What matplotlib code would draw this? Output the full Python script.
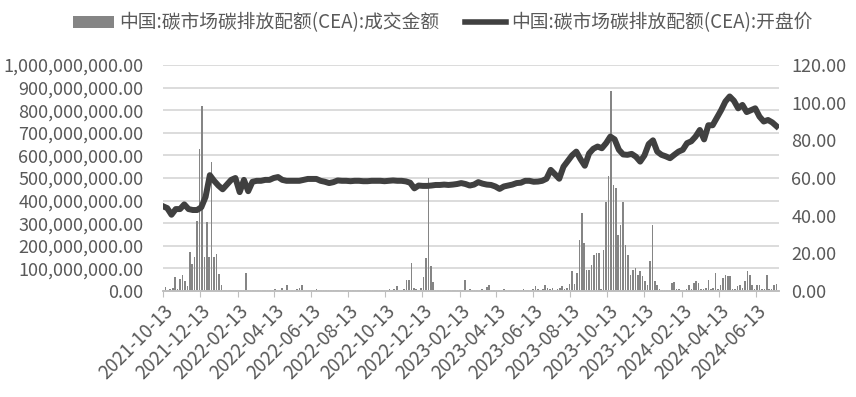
import matplotlib
matplotlib.use("Agg")
import matplotlib.pyplot as plt
from matplotlib.patches import Patch
from matplotlib.lines import Line2D
import numpy as np
import pandas as pd

plt.rcParams['font.family'] = ['Noto Sans CJK SC', 'DejaVu Sans']
plt.rcParams['font.weight'] = 'light'

# 成交金额 (百万元), 每 4 天一个读数, 自 2021-10-13 起
volume_m = [
    5, 18, 4, 8, 12, 62, 10, 55, 70, 43, 20, 172,
    120, 150, 310, 630, 820, 150, 305, 150, 570, 150, 164, 77,
    25, 4, 3, 5, 3, 4, 6, 3, 5, 4, 80, 3,
    4, 3, 5, 4, 6, 3, 4, 5, 3, 6, 8, 5,
    6, 13, 5, 26, 6, 4, 5, 8, 12, 26, 5, 4,
    3, 4, 6, 8, 4, 3, 5, 4, 3, 5, 4, 3,
    4, 3, 5, 3, 4, 3, 4, 3, 5, 3, 4, 3,
    4, 3, 3, 5, 3, 4, 3, 3, 6, 8, 5, 10,
    20, 6, 5, 8, 50, 50, 124, 15, 10, 6, 15, 60,
    147, 500, 110, 40, 5, 3, 4, 3, 5, 4, 6, 3,
    4, 5, 3, 4, 50, 6, 8, 5, 4, 3, 5, 8,
    5, 16, 25, 6, 4, 3, 5, 4, 8, 5, 3, 4,
    5, 3, 4, 6, 8, 5, 4, 6, 10, 20, 8, 6,
    10, 27, 15, 8, 12, 6, 10, 15, 20, 8, 12, 30,
    87, 30, 80, 227, 345, 212, 94, 94, 116, 160, 168, 168,
    10, 180, 396, 507, 885, 470, 455, 249, 293, 396, 205, 160,
    72, 94, 102, 72, 87, 65, 43, 28, 131, 293, 43, 28,
    10, 6, 4, 5, 6, 35, 40, 10, 8, 5, 6, 10,
    28, 10, 35, 43, 35, 8, 10, 12, 50, 10, 12, 80,
    10, 25, 57, 72, 65, 68, 8, 10, 20, 28, 15, 43,
    87, 72, 28, 8, 28, 28, 10, 8, 72, 8, 10, 28,
    30,
]

# 开盘价 (元/吨), 每周一个读数, 自 2021-10-13 起
open_price = [
    45, 44, 40.5, 43.5, 43.5, 46, 43.5, 43, 43, 44.5,
    50, 61.5, 58.5, 56, 54, 56.5, 59, 60, 52.5, 59,
    53, 58, 58.5, 58.5, 59, 59, 60, 60.5, 59, 58.5,
    58.5, 58.5, 58.5, 59, 59.5, 59.5, 59.5, 58.5, 58, 57.3,
    57.8, 58.7, 58.5, 58.5, 58.3, 58.5, 58.5, 58.3, 58.3, 58.5,
    58.5, 58.5, 58.3, 58.5, 58.7, 58.5, 58.5, 58.2, 57.5, 54.5,
    56, 55.8, 55.8, 56, 56.3, 56.3, 56.5, 56.3, 56.5, 56.8,
    57.3, 56.8, 56, 56.5, 57.8, 57, 56.5, 56.3, 55.5, 54.2,
    55.5, 56, 56.5, 57.3, 57.5, 58.5, 58.5, 58, 58.1, 58.5,
    59.6, 64.3, 62, 59.6, 66, 69, 72, 74, 70, 66.5,
    73, 75.5, 76.7, 75.8, 78.5, 82, 80.5, 75, 72.5, 72.3,
    72.8, 71.3, 68.7, 72, 78, 80, 74, 72.3, 71.5, 70.5,
    72.3, 74, 75, 78.5, 79.5, 82, 85.5, 80.5, 88, 88,
    92, 96, 100.6, 103.3, 101, 97, 98.8, 95, 96, 97,
    92.6, 90, 90.8, 89.5, 87.5,
]

start = pd.Timestamp('2021-10-13')
vol_dates = start + pd.to_timedelta(np.arange(len(volume_m)) * 4, unit='D')
price_dates = start + pd.to_timedelta(np.arange(len(open_price)) * 7, unit='D')
tick_dates = pd.date_range('2021-10-01', '2024-06-01', freq='2MS') + pd.Timedelta(days=12)

grey_txt = '#595959'

fig = plt.figure(figsize=(8.56, 3.97), dpi=100)
ax1 = fig.add_axes([0.1904, 0.267, 0.7196, 0.5693])
ax2 = ax1.twinx()

ax1.bar(vol_dates, np.array(volume_m) * 1e6, width=2.6, color='#858585', linewidth=0)
ax2.plot(price_dates, open_price, color='#404040', linewidth=4.3, solid_joinstyle='round')

ax1.set_ylim(0, 1e9)
ax1.set_yticks(np.arange(0, 1e9 + 1, 1e8))
ax1.set_yticklabels(['{:,.2f}'.format(v) for v in np.arange(0, 1e9 + 1, 1e8)])
ax2.set_ylim(0, 120)
ax2.set_yticks(np.arange(0, 121, 20))
ax2.set_yticklabels(['{:.2f}'.format(v) for v in np.arange(0, 121, 20)])

ax1.set_xlim(start, pd.Timestamp('2024-07-21'))
ax1.set_xticks(tick_dates)
ax1.set_xticklabels([d.strftime('%Y-%m-%d') for d in tick_dates], rotation=45,
                    ha='right', va='top', rotation_mode='anchor')

ax1.grid(axis='y', color='#d9d9d9', linewidth=1.3)
ax1.set_axisbelow(True)
for ax in (ax1, ax2):
    for s in ('top', 'left', 'right'):
        ax.spines[s].set_visible(False)
    ax.spines['bottom'].set_color('#bfbfbf')
    ax.spines['bottom'].set_linewidth(1.2)
ax1.tick_params(axis='y', length=0, labelsize=13, labelcolor=grey_txt, pad=14)
ax2.tick_params(axis='y', length=0, labelsize=13, labelcolor=grey_txt, pad=9)
ax1.tick_params(axis='x', length=4, color='#bfbfbf', labelsize=13.5, labelcolor=grey_txt, pad=3)

handles = [Patch(facecolor='#858585', edgecolor='none'),
           Line2D([], [], color='#404040', linewidth=4)]
labels = ['中国:碳市场碳排放配额(CEA):成交金额', '中国:碳市场碳排放配额(CEA):开盘价']
fig.legend(handles, labels, loc='center', bbox_to_anchor=(0.517, 0.942), ncol=2,
           frameon=False, fontsize=13.5, labelcolor=grey_txt, handlelength=2.2,
           handleheight=0.6, handletextpad=0.25, columnspacing=1.4)

fig.savefig('out.png', dpi=100, facecolor='white')
